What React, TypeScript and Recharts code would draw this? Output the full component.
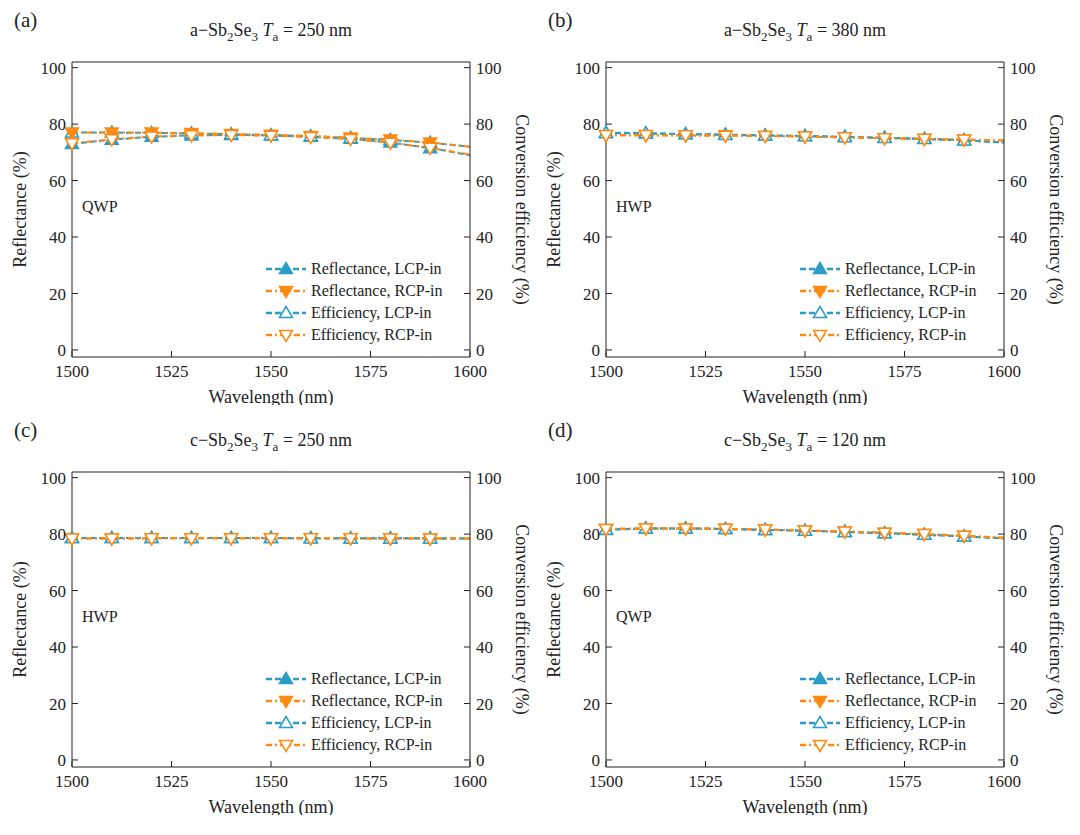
import { LineChart, Line, XAxis, YAxis } from "recharts";

const wavelengths = [1500, 1510, 1520, 1530, 1540, 1550, 1560, 1570, 1580, 1590, 1600];
const xTicks = [1500, 1525, 1550, 1575, 1600];
const yTicks = [0, 20, 40, 60, 80, 100];

// panel (a) a-Sb2Se3, Ta = 250 nm, QWP
const aReflL = [73, 74.5, 75.5, 76, 76.2, 76, 75.5, 74.8, 73.5, 71.5, 69];
const aReflR = [77, 77, 77, 76.8, 76.5, 76.2, 75.8, 75.2, 74.5, 73.5, 72];
const aEffL = [77, 77, 76.9, 76.7, 76.4, 76.1, 75.7, 75.1, 74.4, 73.4, 72];
const aEffR = [73.2, 74.6, 75.6, 76, 76.1, 75.9, 75.4, 74.7, 73.4, 71.6, 69.2];
// panel (b) a-Sb2Se3, Ta = 380 nm, HWP
const bReflL = [77, 76.8, 76.5, 76.3, 76, 75.8, 75.5, 75.2, 74.8, 74.3, 73.5];
const bReflR = [76, 76, 76, 76, 75.8, 75.6, 75.3, 75, 74.7, 74.5, 74.2];
const bEffL = [76.8, 76.7, 76.4, 76.2, 76, 75.7, 75.4, 75.1, 74.7, 74.2, 73.5];
const bEffR = [76.1, 76.1, 76, 75.9, 75.8, 75.6, 75.3, 75, 74.8, 74.5, 74.2];
// panel (c) c-Sb2Se3, Ta = 250 nm, HWP
const cReflL = [78.6, 78.6, 78.6, 78.6, 78.6, 78.6, 78.6, 78.5, 78.5, 78.5, 78.4];
const cReflR = [78.4, 78.4, 78.5, 78.5, 78.5, 78.5, 78.5, 78.5, 78.4, 78.4, 78.4];
const cEffL = [78.6, 78.6, 78.6, 78.6, 78.6, 78.6, 78.5, 78.5, 78.5, 78.5, 78.4];
const cEffR = [78.4, 78.4, 78.5, 78.5, 78.5, 78.5, 78.5, 78.5, 78.4, 78.4, 78.4];
// panel (d) c-Sb2Se3, Ta = 120 nm, QWP
const dReflL = [81.5, 82, 82, 81.8, 81.5, 81.2, 80.8, 80.3, 79.8, 79.2, 78.5];
const dReflR = [81.8, 82, 82, 81.9, 81.6, 81.3, 80.9, 80.5, 80, 79.4, 78.7];
const dEffL = [81.6, 82, 82, 81.8, 81.5, 81.2, 80.8, 80.3, 79.8, 79.2, 78.5];
const dEffR = [81.8, 82, 82, 81.9, 81.6, 81.3, 80.9, 80.5, 80, 79.4, 78.7];

const BLUE = "#2b9dc4";
const ORANGE = "#ff8a12";
const FONT = "'Liberation Serif', 'Times New Roman', serif";

const marker = (kind: "up" | "down", filled: boolean, color: string) => (props: any) => {
  const { cx, cy, index } = props;
  if (index === wavelengths.length - 1 || cx == null) return <g key={index} />;
  const s = 6.5;
  const pts =
    kind === "up"
      ? `${cx},${cy - s} ${cx - s},${cy + s * 0.7} ${cx + s},${cy + s * 0.7}`
      : `${cx},${cy + s} ${cx - s},${cy - s * 0.7} ${cx + s},${cy - s * 0.7}`;
  return (
    <polygon key={index} points={pts} fill={filled ? color : "#fff"} stroke={color} strokeWidth={1.5} />
  );
};

type PanelProps = {
  left: number;
  top: number;
  tag: string;
  phase: string;
  ta: string;
  mode: string;
  reflL: number[];
  reflR: number[];
  effL: number[];
  effR: number[];
};

function Panel({ left, top, tag, phase, ta, mode, reflL, reflR, effL, effR }: PanelProps) {
  const data = wavelengths.map((w, i) => ({
    w,
    reflL: reflL[i],
    reflR: reflR[i],
    effL: effL[i],
    effR: effR[i],
  }));
  const tickStyle = { fill: "#222", fontSize: 17, fontFamily: FONT };
  const labelStyle = { fill: "#222", fontSize: 18, fontFamily: FONT, textAnchor: "middle" as const };
  const legendRows = [
    { text: "Reflectance, LCP-in", color: BLUE, kind: "up", filled: true, dash: "6 3" },
    { text: "Reflectance, RCP-in", color: ORANGE, kind: "down", filled: true, dash: "6 3 2 3" },
    { text: "Efficiency, LCP-in", color: BLUE, kind: "up", filled: false, dash: "6 3" },
    { text: "Efficiency, RCP-in", color: ORANGE, kind: "down", filled: false, dash: "6 3 2 3" },
  ];
  return (
    <div style={{ position: "absolute", left, top, width: 540, height: 410, fontFamily: FONT, color: "#222" }}>
      <LineChart width={540} height={405} data={data} margin={{ top: 61, right: 0, bottom: 0, left: 0 }}>
        <XAxis
          dataKey="w"
          type="number"
          domain={[1500, 1600]}
          ticks={xTicks}
          tick={tickStyle}
          tickSize={-6}
          tickMargin={14}
          stroke="#222"
          height={48}
          label={{ value: "Wavelength (nm)", position: "insideBottom", offset: 2, style: labelStyle }}
        />
        <XAxis xAxisId="top" orientation="top" dataKey="w" type="number" domain={[1500, 1600]} tick={false} tickLine={false} stroke="#222" height={1} />
        <YAxis
          domain={[-2.5, 102]}
          ticks={yTicks}
          tick={tickStyle}
          tickSize={-6}
          tickMargin={12}
          stroke="#222"
          width={72}
          allowDataOverflow
          label={{ value: "Reflectance (%)", angle: -90, position: "insideLeft", offset: 20, style: labelStyle }}
        />
        <YAxis
          yAxisId="right"
          orientation="right"
          domain={[-2.5, 102]}
          ticks={yTicks}
          tick={tickStyle}
          tickSize={-6}
          tickMargin={12}
          stroke="#222"
          width={70}
          allowDataOverflow
          label={{ value: "Conversion efficiency (%)", angle: 90, position: "insideRight", offset: 18, style: labelStyle }}
        />
        <Line dataKey="reflL" stroke={BLUE} strokeWidth={2} strokeDasharray="6 3" dot={marker("up", true, BLUE)} isAnimationActive={false} />
        <Line dataKey="effL" stroke={BLUE} strokeWidth={2} strokeDasharray="6 3" dot={marker("up", false, BLUE)} isAnimationActive={false} />
        <Line dataKey="reflR" stroke={ORANGE} strokeWidth={2} strokeDasharray="6 3 2 3" dot={marker("down", true, ORANGE)} isAnimationActive={false} />
        <Line dataKey="effR" stroke={ORANGE} strokeWidth={2} strokeDasharray="6 3 2 3" dot={marker("down", false, ORANGE)} isAnimationActive={false} />
      </LineChart>
      <div style={{ position: "absolute", left: 14, top: 8, fontSize: 21 }}>{tag}</div>
      <div style={{ position: "absolute", left: 72, width: 398, top: 20, textAlign: "center", fontSize: 18, whiteSpace: "nowrap" }}>
        {phase}−Sb<sub style={{ fontSize: 13 }}>2</sub>Se<sub style={{ fontSize: 13 }}>3</sub> <i>T</i>
        <sub style={{ fontSize: 13 }}>a</sub> = {ta} nm
      </div>
      <div style={{ position: "absolute", left: 82, top: 198, fontSize: 16 }}>{mode}</div>
      <div style={{ position: "absolute", left: 264, top: 258, fontSize: 16, lineHeight: "22px" }}>
        {legendRows.map((r) => (
          <div key={r.text} style={{ display: "flex", alignItems: "center", whiteSpace: "nowrap" }}>
            <svg width={44} height={20} style={{ marginRight: 3 }}>
              <line x1={2} x2={42} y1={10} y2={10} stroke={r.color} strokeWidth={2.5} strokeDasharray={r.dash} />
              {marker(r.kind as "up" | "down", r.filled, r.color)({ cx: 22, cy: 10, index: 0 })}
            </svg>
            {r.text}
          </div>
        ))}
      </div>
    </div>
  );
}

export default function App() {
  return (
    <div style={{ position: "relative", width: 1080, height: 835, margin: -8, background: "#fff" }}>
      <Panel left={0} top={0} tag="(a)" phase="a" ta="250" mode="QWP" reflL={aReflL} reflR={aReflR} effL={aEffL} effR={aEffR} />
      <Panel left={534} top={0} tag="(b)" phase="a" ta="380" mode="HWP" reflL={bReflL} reflR={bReflR} effL={bEffL} effR={bEffR} />
      <Panel left={0} top={410} tag="(c)" phase="c" ta="250" mode="HWP" reflL={cReflL} reflR={cReflR} effL={cEffL} effR={cEffR} />
      <Panel left={534} top={410} tag="(d)" phase="c" ta="120" mode="QWP" reflL={dReflL} reflR={dReflR} effL={dEffL} effR={dEffR} />
    </div>
  );
}
